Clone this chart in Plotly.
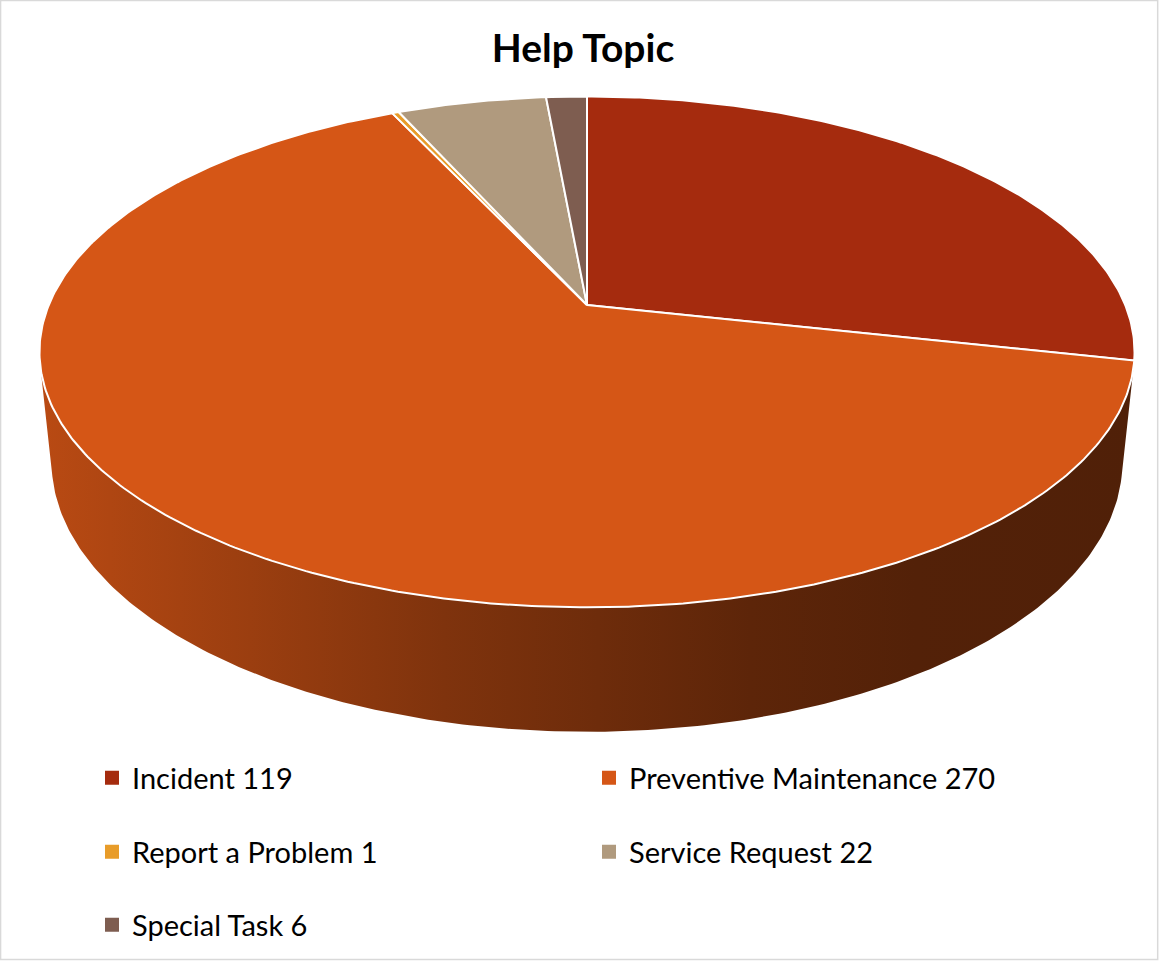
import numpy as np
import plotly.graph_objects as go

# ---- data -------------------------------------------------------------
categories = ["Incident", "Preventive Maintenance", "Report a Problem",
              "Service Request", "Special Task"]
counts = [119, 270, 1, 22, 6]
colors = ["#A52B0E", "#D55616", "#E89C29", "#B09A7E", "#7E5D50"]

# ---- 3-D pie geometry (perspective projection of a tilted disc) -------
W, H = 1160, 961
CX, CY = 587.0, 305.0          # projected centre of the top face (pixels)
ELEV = np.radians(27.3)        # viewing elevation
DIST = 4.84                    # camera distance in disc radii
FOCAL = 2605.0                 # focal length in pixels
THICK = 0.232                  # disc thickness in disc radii
SIN_E, COS_E = np.sin(ELEV), np.cos(ELEV)


def project(phi, height):
    """Project a rim point at clockwise angle phi (0 = far side) and height."""
    u, v = np.sin(phi), np.cos(phi)
    depth = DIST - height * SIN_E + v * COS_E
    up = height * COS_E + v * SIN_E
    return CX + FOCAL * u / depth, CY - FOCAL * up / depth


def shade(hex_color, f):
    h = hex_color.lstrip("#")
    r, g, b = (int(h[i:i + 2], 16) for i in (0, 2, 4))
    return "#%02X%02X%02X" % (int(r * f), int(g * f), int(b * f))


total = float(sum(counts))
edges = np.concatenate([[0.0], np.cumsum(counts)]) / total * 2 * np.pi

# range of rim angles whose outer wall faces the camera
phi_lo = np.arccos(-1.0 / (DIST * COS_E))
phi_hi = 2 * np.pi - phi_lo

fig = go.Figure()

# outer walls
for i, col in enumerate(colors):
    a0, a1 = max(edges[i], phi_lo), min(edges[i + 1], phi_hi)
    if a1 <= a0:
        continue
    t = np.linspace(a0, a1, 240)
    xt, yt = project(t, 0.0)
    xb, yb = project(t[::-1], -THICK)
    xs = np.concatenate([xt, xb, xt[:1]])
    ys = np.concatenate([yt, yb, yt[:1]])
    fig.add_trace(go.Scatter(
        x=xs, y=ys, mode="lines", fill="toself",
        line=dict(width=0, color="rgba(0,0,0,0)"),
        fillgradient=dict(type="horizontal", colorscale=[
            [0.0, shade(col, 0.87)], [0.37, shade(col, 0.60)],
            [0.65, shade(col, 0.44)], [0.80, shade(col, 0.39)],
            [1.0, shade(col, 0.38)]]),
        hoverinfo="skip", showlegend=False))

# top faces
for i, (name, val, col) in enumerate(zip(categories, counts, colors)):
    n = max(4, int(np.ceil((edges[i + 1] - edges[i]) / (2 * np.pi) * 600)))
    t = np.linspace(edges[i], edges[i + 1], n)
    xa, ya = project(t, 0.0)
    xs = np.concatenate([[CX], xa, [CX]])
    ys = np.concatenate([[CY], ya, [CY]])
    fig.add_trace(go.Scatter(
        x=xs, y=ys, mode="lines", fill="toself", fillcolor=col,
        line=dict(width=2, color="white"),
        hovertemplate=f"{name}: {val}<extra></extra>", showlegend=False))

# legend entries, two per row
legend_names = ["legend", "legend2", "legend3"]
for i, (name, val, col) in enumerate(zip(categories, counts, colors)):
    fig.add_trace(go.Scatter(
        x=[None], y=[None], mode="markers", name=f"{name} {val}",
        marker=dict(symbol="square", size=14, color=col),
        legend=legend_names[i // 2]))

row_y = [778, 852, 925]
legend_style = dict(
    orientation="h", xanchor="left", yanchor="middle", x=(114 - 22) / W,
    entrywidth=452, entrywidthmode="pixels", itemsizing="trace",
    bgcolor="rgba(0,0,0,0)", borderwidth=0,
    font=dict(family="Lato", size=29, color="#000000"))

fig.update_layout(
    width=W, height=H,
    margin=dict(l=0, r=0, t=0, b=0),
    paper_bgcolor="white", plot_bgcolor="white",
    title=dict(text="<b>Help Topic</b>", x=583 / W, xanchor="center",
               y=1 - 48 / H, yanchor="middle",
               font=dict(family="Lato", size=39, color="#000000")),
    xaxis=dict(range=[0, W], visible=False, fixedrange=True),
    yaxis=dict(range=[H, 0], visible=False, fixedrange=True),
    legend=dict(legend_style, y=1 - row_y[0] / H),
    legend2=dict(legend_style, y=1 - row_y[1] / H),
    legend3=dict(legend_style, y=1 - row_y[2] / H),
    shapes=[dict(type="rect", xref="paper", yref="paper",
                 x0=0.0005, y0=0.0015, x1=0.998, y1=0.9995,
                 line=dict(color="#D9D9D9", width=1.5), layer="below")],
    showlegend=True,
)

fig.write_html("out.html")
